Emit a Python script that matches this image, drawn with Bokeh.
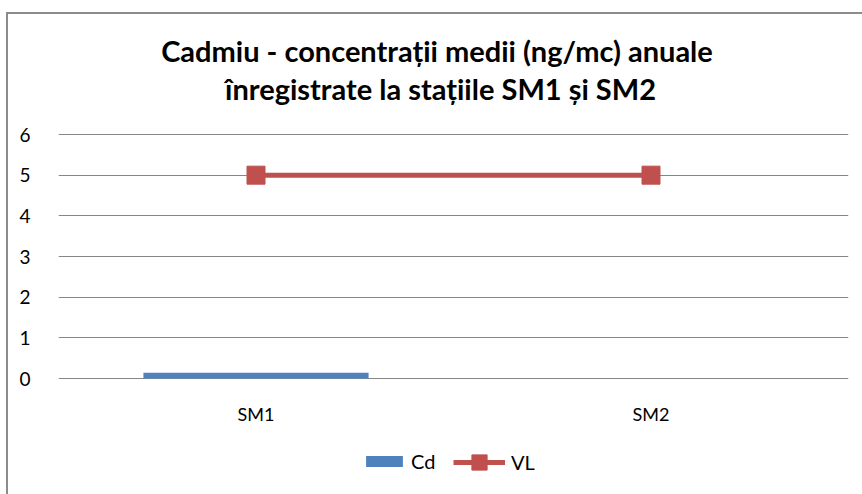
from bokeh.plotting import figure
from bokeh.models import Legend, LegendItem, ColumnDataSource
from bokeh.core.properties import value
from bokeh.embed import file_html
from bokeh.resources import INLINE

categories = ["SM1", "SM2"]
cd_values = [0.14, 0.0]
vl_values = [5, 5]
y_ticks = [0, 1, 2, 3, 4, 5, 6]
title_lines = ["Cadmiu -  concentrații medii (ng/mc) anuale", "înregistrate la stațiile SM1 și SM2"]

FONT = "Lato"
W, H = 862, 494
LEFT, RIGHT = 58, 14
TOP6_PIX = 134   # pixel row of value 6
Y0_PIX = 378     # pixel row of value 0
px_per_unit = (Y0_PIX - TOP6_PIX) / 6.0
y_start = -(H - Y0_PIX) / px_per_unit
y_end = 6 + TOP6_PIX / px_per_unit

def y_of_pix(py):
    return (Y0_PIX - py) / px_per_unit

p = figure(width=W, height=H, x_range=categories, y_range=(y_start, y_end),
           output_backend="svg", toolbar_location=None,
           min_border_left=LEFT, min_border_right=RIGHT, min_border_top=0, min_border_bottom=0)
p.outline_line_color = None
p.background_fill_color = None
p.border_fill_color = None
p.styles = {"background": "linear-gradient(#8c8c8c,#8c8c8c) no-repeat 6px 12px / 2px 100%, "
                          "linear-gradient(#8c8c8c,#8c8c8c) no-repeat 6px 12px / 100% 2px, #ffffff"}

# chart title (two centred lines)
frame_w = W - LEFT - RIGHT
title_x = (440 - LEFT) / frame_w * len(categories)
title_src = ColumnDataSource(dict(x=[title_x, title_x], y=[y_of_pix(50), y_of_pix(88)], t=title_lines))
p.text("x", "y", text="t", source=title_src, text_font=value(FONT), text_font_size="29px",
       text_font_style="bold", text_color="#000000", text_align="center", text_baseline="middle")

bars = p.vbar(x=categories, top=cd_values, width=0.57, color="#4F81BD", line_color=None)
src = ColumnDataSource(dict(x=categories, y=vl_values))
ln = p.line("x", "y", source=src, line_color="#C0504D", line_width=5)
mk = p.scatter("x", "y", source=src, marker="square", size=18, fill_color="#C0504D", line_color="#C0504D")

# category labels below the zero line
lab_src = ColumnDataSource(dict(x=categories, y=[y_of_pix(413)] * len(categories)))
p.text("x", "y", text="x", source=lab_src, text_font=value(FONT), text_font_size="18px",
       text_color="#000000", text_align="center", text_baseline="middle")

p.xaxis.visible = False
p.yaxis.ticker = y_ticks
p.yaxis.axis_line_color = None
p.yaxis.major_tick_line_color = None
p.yaxis.minor_tick_line_color = None
p.yaxis.major_label_text_font = FONT
p.yaxis.major_label_text_font_size = "19px"
p.yaxis.major_label_text_color = "#000000"
p.yaxis.major_label_standoff = 22

p.xgrid.grid_line_color = None
p.ygrid.ticker = y_ticks
p.ygrid.grid_line_color = "#868686"
p.ygrid.grid_line_width = 1

common = dict(orientation="horizontal", label_text_font=FONT, label_text_font_size="20px",
              label_text_color="#000000", border_line_color=None, background_fill_alpha=0,
              padding=0, margin=0)
legend_cd = Legend(items=[LegendItem(label="Cd", renderers=[bars])], location=(303, 21),
                   glyph_width=46, glyph_height=14, label_standoff=4, **common)
legend_vl = Legend(items=[LegendItem(label="VL", renderers=[ln, mk])], location=(395, 13),
                   glyph_width=52, glyph_height=38, label_standoff=6, **common)
p.add_layout(legend_cd)
p.add_layout(legend_vl)

open("out.html", "w").write(file_html(p, INLINE))
